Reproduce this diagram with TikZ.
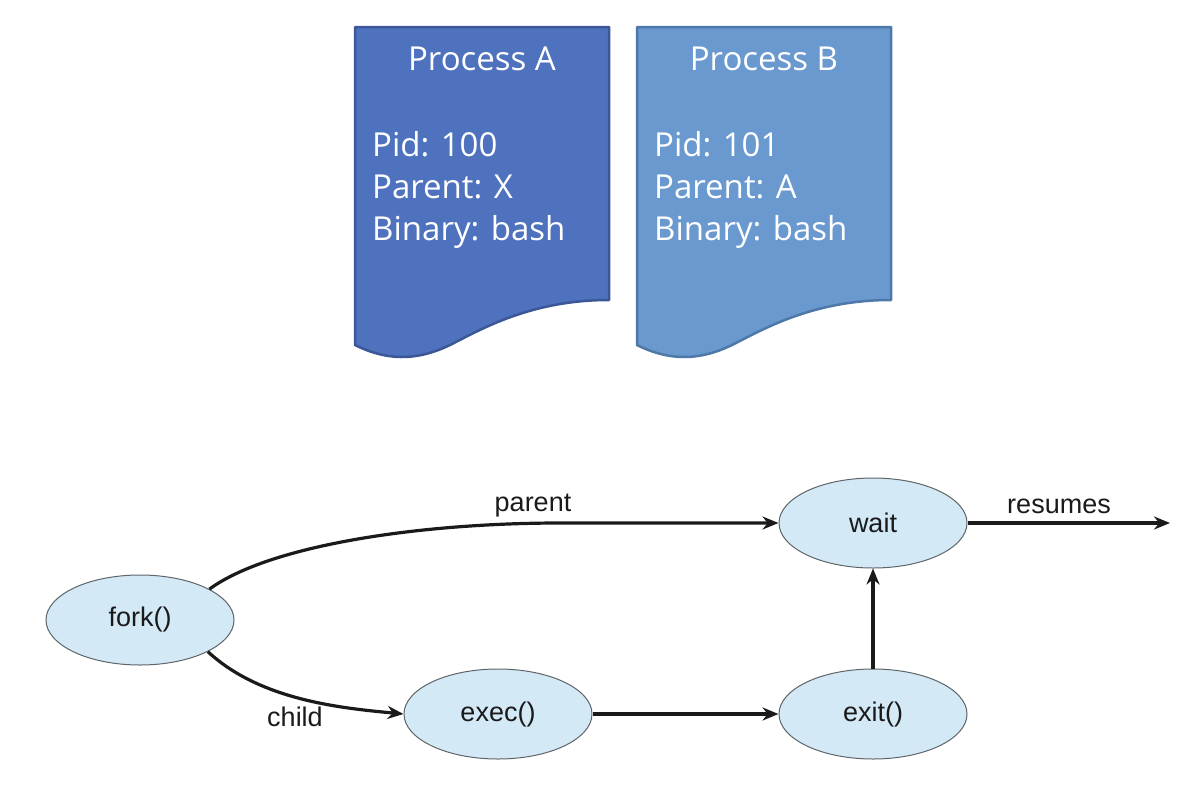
\documentclass[tikz,border=0pt]{standalone}
\usepackage{fontspec}
\setmainfont{Liberation Sans}
\newfontfamily\docfont{Open Sans}
\usetikzlibrary{shapes.geometric,arrows.meta}
\definecolor{docA}{HTML}{4F72BE}
\definecolor{docAb}{HTML}{3B5797}
\definecolor{docB}{HTML}{6A99D0}
\definecolor{docBb}{HTML}{4E78A8}
\definecolor{ellfill}{HTML}{D3E9F6}
\definecolor{ellline}{HTML}{5E6468}
\definecolor{ink}{HTML}{1A1A1A}
\begin{document}
\begin{tikzpicture}[x=1pt,y=-1pt,
  state/.style={ellipse,draw=ellline,fill=ellfill,line width=1pt,minimum width=188pt,minimum height=90pt,inner sep=0pt,text=ink,font=\fontsize{27}{30}\selectfont},
  conn/.style={draw=ink,line width=3.2pt,-{Stealth[length=16pt,width=13pt]}},
  lbl/.style={text=ink,font=\fontsize{27}{30}\selectfont},
  doctext/.style={text=white,font=\docfont\fontsize{33}{42}\selectfont,align=left,anchor=west,inner sep=0pt},
  doctitle/.style={text=white,font=\docfont\fontsize{33}{36}\selectfont,inner sep=0pt}]
\useasboundingbox (0,0) rectangle (1186,788);
% documents
\path[fill=docA,draw=docAb,line width=2.5pt,line join=round]
  (355,27) -- (609,27) -- (609,300)
  .. controls (530,300) and (480,330) .. (450,345)
  .. controls (415,362) and (385,360) .. (355,345) -- cycle;
\path[fill=docB,draw=docBb,line width=2.5pt,line join=round]
  (637,27) -- (891,27) -- (891,300)
  .. controls (812,300) and (762,330) .. (732,345)
  .. controls (697,362) and (667,360) .. (637,345) -- cycle;
\node[doctitle] (ta) at (482,59) {Process A};
\node[doctitle] (tb) at (764,59) {Process B};
\node[doctext] (da) at (372,190) {Pid: 100\\Parent: X\\Binary: bash};
\node[doctext] (db) at (654,190) {Pid: 101\\Parent: A\\Binary: bash};
% states
\node[state] (fork) at (140,620) {fork()};
\node[state] (exec) at (498,714) {exec()};
\node[state] (exit) at (873,714) {exit()};
\node[state] (wait) at (873,523) {wait};
\coordinate (res) at (1170,523);
\draw[conn] (fork.24) .. controls (270,545) and (420,523) .. (560,523) -- (wait.west);
\draw[conn] (fork.-25) .. controls (260,700) and (340,708) .. (exec.west);
\draw[conn] (exec.east) -- (exit.west);
\draw[conn] (exit.north) -- (wait.south);
\draw[conn] (wait.east) -- (res);
\node[lbl] (lp) at (533,506) {parent};
\node[lbl] (lc) at (295,717) {child};
\node[lbl] (lr) at (1059,506) {resumes};
\end{tikzpicture}
\end{document}
